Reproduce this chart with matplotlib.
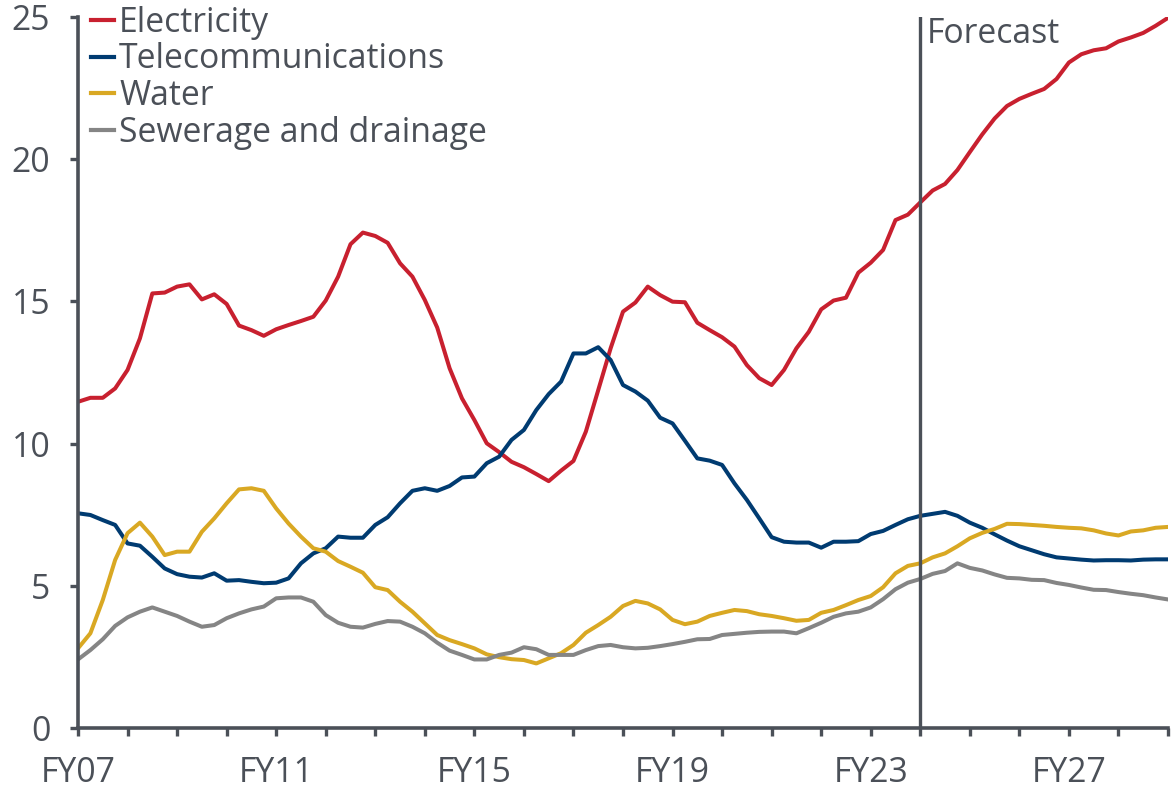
import numpy as np
import matplotlib
matplotlib.use("Agg")
import matplotlib.pyplot as plt

plt.rcParams['font.family'] = ['Open Sans', 'DejaVu Sans']

# Quarterly series, FY07 Q1 ... FY29 (89 observations)
electricity = [11.47, 11.61, 11.61, 11.94, 12.59, 13.70, 15.28, 15.31, 15.52, 15.60,
               15.07, 15.25, 14.91, 14.15, 13.99, 13.79, 14.02, 14.17, 14.31, 14.46,
               15.03, 15.87, 17.01, 17.42, 17.30, 17.06, 16.34, 15.87, 15.05, 14.08,
               12.65, 11.59, 10.83, 10.01, 9.70, 9.36, 9.17, 8.93, 8.68, 9.05,
               9.39, 10.42, 11.88, 13.35, 14.64, 14.96, 15.52, 15.22, 14.99, 14.97,
               14.25, 13.99, 13.74, 13.41, 12.76, 12.30, 12.06, 12.59, 13.35, 13.93,
               14.72, 15.03, 15.13, 16.01, 16.36, 16.81, 17.86, 18.05, 18.48, 18.90,
               19.13, 19.62, 20.25, 20.87, 21.43, 21.87, 22.12, 22.30, 22.47, 22.82,
               23.40, 23.69, 23.83, 23.90, 24.14, 24.28, 24.44, 24.69, 24.97]
telecom = [7.55, 7.49, 7.31, 7.14, 6.49, 6.41, 6.02, 5.61, 5.41, 5.32,
           5.29, 5.44, 5.18, 5.20, 5.14, 5.09, 5.11, 5.26, 5.79, 6.14,
           6.32, 6.73, 6.69, 6.69, 7.14, 7.41, 7.90, 8.34, 8.43, 8.34,
           8.51, 8.81, 8.84, 9.31, 9.54, 10.13, 10.48, 11.18, 11.74, 12.18,
           13.17, 13.17, 13.39, 12.94, 12.06, 11.83, 11.51, 10.91, 10.71, 10.10,
           9.48, 9.40, 9.25, 8.60, 8.02, 7.37, 6.71, 6.55, 6.52, 6.52,
           6.34, 6.55, 6.55, 6.57, 6.82, 6.93, 7.14, 7.34, 7.46, 7.53,
           7.60, 7.46, 7.22, 7.04, 6.81, 6.59, 6.39, 6.25, 6.11, 6.00,
           5.96, 5.92, 5.89, 5.90, 5.90, 5.89, 5.92, 5.93, 5.93]
water = [2.80, 3.33, 4.50, 5.91, 6.85, 7.22, 6.73, 6.08, 6.20, 6.20,
         6.90, 7.37, 7.90, 8.39, 8.43, 8.34, 7.72, 7.19, 6.73, 6.32,
         6.20, 5.87, 5.67, 5.46, 4.95, 4.85, 4.44, 4.09, 3.68, 3.27,
         3.09, 2.95, 2.80, 2.59, 2.49, 2.42, 2.39, 2.27, 2.45, 2.63,
         2.92, 3.35, 3.62, 3.91, 4.29, 4.47, 4.38, 4.17, 3.80, 3.65,
         3.74, 3.94, 4.05, 4.15, 4.11, 4.00, 3.94, 3.86, 3.77, 3.80,
         4.05, 4.15, 4.32, 4.50, 4.64, 4.95, 5.44, 5.70, 5.79, 6.00,
         6.14, 6.39, 6.67, 6.86, 7.00, 7.18, 7.17, 7.14, 7.11, 7.07,
         7.04, 7.02, 6.95, 6.84, 6.77, 6.91, 6.95, 7.04, 7.07]
sewerage = [2.41, 2.74, 3.12, 3.59, 3.89, 4.09, 4.24, 4.09, 3.94, 3.74,
            3.56, 3.62, 3.86, 4.03, 4.17, 4.27, 4.56, 4.59, 4.59, 4.44,
            3.97, 3.70, 3.56, 3.53, 3.66, 3.76, 3.74, 3.56, 3.33, 3.00,
            2.72, 2.57, 2.41, 2.41, 2.57, 2.65, 2.84, 2.77, 2.57, 2.57,
            2.57, 2.74, 2.88, 2.92, 2.84, 2.80, 2.82, 2.88, 2.95, 3.03,
            3.12, 3.13, 3.27, 3.31, 3.35, 3.38, 3.39, 3.39, 3.33, 3.51,
            3.70, 3.91, 4.03, 4.09, 4.24, 4.53, 4.88, 5.11, 5.24, 5.42,
            5.52, 5.79, 5.63, 5.54, 5.40, 5.28, 5.26, 5.21, 5.20, 5.10,
            5.03, 4.94, 4.86, 4.85, 4.78, 4.72, 4.67, 4.59, 4.52]

series_names = ["Electricity", "Telecommunications", "Water", "Sewerage and drainage"]
series_colors = ["#C8202F", "#003B71", "#D9A823", "#858585"]
start_fy = 7
end_fy = 29
forecast_fy = 24
label_years = [7, 11, 15, 19, 23, 27]

axis_color = "#4B5058"
text_color = "#4B5058"
fs = 24.3

n = len(electricity)
x = start_fy + np.arange(n) / 4.0

fig = plt.figure(figsize=(11.71, 7.94), dpi=100)
ax = fig.add_axes([78 / 1171, 1 - 728 / 794, (1168 - 78) / 1171, (728 - 17) / 794])

for vals, name, col in zip([electricity, telecom, water, sewerage], series_names, series_colors):
    ax.plot(x, vals, color=col, lw=2.9, label=name, solid_joinstyle='round')

ax.axvline(forecast_fy, color=axis_color, lw=2.4, zorder=3)
ax.annotate("Forecast", xy=(forecast_fy, 25), xytext=(5, 0), textcoords='offset points',
            ha='left', va='top', fontsize=fs, color=text_color)

ax.set_xlim(start_fy, end_fy)
ax.set_ylim(0, 25)
ax.set_yticks([0, 5, 10, 15, 20, 25])
years = list(range(start_fy, end_fy + 1))
ax.set_xticks(years)
ax.set_xticklabels([f"FY{y:02d}" if y in label_years else "" for y in years])

for s in ['top', 'right']:
    ax.spines[s].set_visible(False)
for s in ['left', 'bottom']:
    ax.spines[s].set_color(axis_color)
    ax.spines[s].set_linewidth(2.6)

ax.tick_params(axis='both', colors=axis_color, width=2.4, length=6, labelsize=fs,
               labelcolor=text_color)
ax.tick_params(axis='x', pad=14)
ax.tick_params(axis='y', pad=14)

leg = ax.legend(loc='upper left', bbox_to_anchor=(0.012, 1.016), frameon=False,
                fontsize=fs, handlelength=0.68, handletextpad=0.15, labelspacing=0.08,
                borderpad=0, borderaxespad=0)
for t in leg.get_texts():
    t.set_color(text_color)
for h in leg.get_lines():
    h.set_linewidth(3.0)

fig.savefig("out.png", dpi=100)
